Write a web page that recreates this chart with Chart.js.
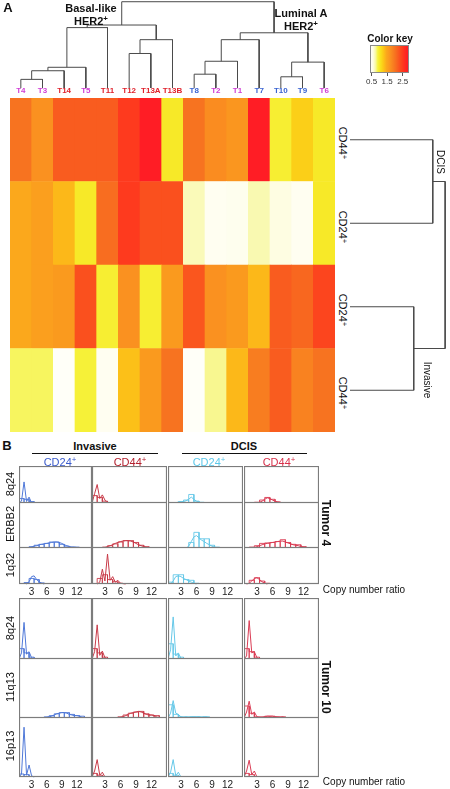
<!DOCTYPE html>
<html>
<head>
<meta charset="utf-8">
<script src="https://cdn.jsdelivr.net/npm/chart.js@4.4.1/dist/chart.umd.min.js"></script>
<style>
body{margin:0;background:#fff;width:450px;height:789px;position:relative;overflow:hidden;font-family:"Liberation Sans",Arial,sans-serif;color:#111}
canvas{position:absolute}
.t{position:absolute;white-space:nowrap;line-height:1;transform:translate(-50%,-50%)}
.cw{transform:translate(-50%,-50%) rotate(90deg)}
.ccw{transform:translate(-50%,-50%) rotate(-90deg)}
.b{font-weight:bold}
sup{font-size:72%;line-height:0;vertical-align:0.4em}
.rule{position:absolute;height:1px;background:#111}
</style>
</head>
<body>
<div id="root"></div>
<script>
// heatmap (panel A)
const colLabels = ['T4','T3','T14','T5','T11','T12','T13A','T13B','T8','T2','T1','T7','T10','T9','T6'];
const colGroup = ['m','m','r','m','r','r','r','r','b','m','m','b','b','b','m'];
const rowLabels = ['CD44', 'CD24', 'CD24', 'CD44'];
const dcisCD44 = [2.0, 1.7, 2.2, 2.2, 2.2, 2.5, 2.8, 1.0, 2.0, 1.75, 1.65, 2.8, 0.95, 1.2, 1.0];
const dcisCD24 = [1.45, 1.55, 1.35, 1.0, 2.05, 2.5, 2.3, 2.3, 0.7, 0.5, 0.52, 0.72, 0.6, 0.5, 1.0];
const invCD24 = [1.45, 1.55, 1.6, 2.3, 0.95, 1.7, 0.95, 1.6, 2.25, 1.7, 1.6, 1.35, 2.2, 2.1, 2.4];
const invCD44 = [0.85, 0.85, 0.45, 0.92, 0.5, 1.3, 1.6, 2.0, 0.45, 0.78, 1.35, 1.9, 2.2, 1.85, 2.0];
const keyTicks = [0.5, 1.5, 2.5];

// column clustering (hclust style merges, negative = leaf)
const topMergeA = [-1, -13, -9, 1, 4, 2, 3, -6, 8, 7, 10, 5, 12, 13];
const topMergeB = [-2, -14, -10, -3, -4, -15, -11, -7, -8, -12, 6, -5, 9, 11];
const topMergeH = [0.10, 0.13, 0.16, 0.20, 0.24, 0.30, 0.31, 0.40, 0.56, 0.56, 0.64, 0.70, 0.73, 1.0];
// row clustering
const rowMergeA = [-3, -1, 2];
const rowMergeB = [-4, -2, 1];
const rowMergeH = [0.67, 0.87, 1.0];

// histograms (panel B): columns = invasive CD24, invasive CD44, DCIS CD24, DCIS CD44
const copyTicks = [3, 6, 9, 12];
const binEdges = [0.5, 1.5, 2.5, 3.5, 4.5, 5.5, 6.5, 7.5, 8.5, 9.5, 10.5, 11.5, 12.5, 13.5, 14.5];
const fineX = [0.5, 1, 1.5, 2, 2.5, 3, 3.5, 4, 4.5, 5, 5.5, 6, 6.5, 7, 7.5, 8, 8.5, 9, 9.5, 10, 10.5, 11, 11.5, 12, 12.5, 13, 13.5, 14, 14.5];

const t4_8q24_coarse = [
  [0.12, 0.1, 0.04],
  [0.2, 0.15, 0.05],
  [0, 0, 0.04, 0.08, 0.23, 0.05, 0.02],
  [0, 0, 0.02, 0.08, 0.15, 0.1, 0.03]
];
const t4_8q24_fine = [
  [0, 0.05, 0.57, 0.04, 0.16, 0],
  [0, 0.25, 0.5, 0.12, 0.22, 0.08, 0],
  [0, 0, 0, 0.01, 0.02, 0.03, 0.04, 0.06, 0.1, 0.16, 0.1, 0.05, 0.02, 0],
  [0, 0, 0, 0, 0, 0, 0.02, 0.05, 0.1, 0.14, 0.12, 0.08, 0.05, 0.03, 0.01, 0]
];
const t4_erbb2_coarse = [
  [0, 0, 0.03, 0.06, 0.08, 0.1, 0.13, 0.13, 0.08, 0.04, 0.02, 0.02, 0.01, 0.01],
  [0, 0, 0.02, 0.05, 0.09, 0.13, 0.16, 0.16, 0.12, 0.06, 0.03, 0, 0, 0.01],
  [0, 0, 0, 0, 0.12, 0.34, 0.2, 0.2, 0.06, 0.02],
  [0, 0.02, 0.05, 0.1, 0.11, 0.12, 0.14, 0.18, 0.12, 0.08, 0.07, 0.03, 0.01]
];
const t4_erbb2_fine = [
  [0, 0, 0, 0, 0, 0.02, 0.04, 0.05, 0.07, 0.08, 0.09, 0.1, 0.11, 0.12, 0.13, 0.13, 0.12, 0.1, 0.07, 0.05, 0.03, 0.02, 0.02, 0.01, 0.01, 0.01, 0.01, 0.01, 0],
  [0, 0, 0, 0, 0, 0.01, 0.03, 0.05, 0.07, 0.1, 0.12, 0.14, 0.15, 0.16, 0.16, 0.15, 0.13, 0.1, 0.07, 0.05, 0.03, 0.01, 0, 0, 0, 0, 0, 0.01, 0],
  [0, 0, 0, 0, 0, 0, 0, 0, 0.04, 0.14, 0.24, 0.27, 0.22, 0.17, 0.14, 0.1, 0.07, 0.04, 0.02, 0],
  [0, 0, 0, 0, 0.01, 0.03, 0.05, 0.07, 0.09, 0.1, 0.11, 0.12, 0.13, 0.14, 0.15, 0.15, 0.13, 0.11, 0.09, 0.07, 0.06, 0.05, 0.03, 0.02, 0.01, 0]
];
const t4_1q32_coarse = [
  [0, 0.04, 0.15, 0.12, 0.03],
  [0, 0.15, 0.25, 0.12, 0.06, 0.02],
  [0.05, 0.25, 0.25, 0.12, 0.1, 0.02],
  [0, 0.1, 0.17, 0.08, 0.02]
];
const t4_1q32_fine = [
  [0, 0, 0, 0, 0.06, 0.2, 0.22, 0.12, 0.06, 0.02, 0],
  [0, 0, 0, 0.05, 0.4, 0.08, 0.81, 0.1, 0.2, 0.05, 0.1, 0.02, 0.01, 0],
  [0, 0, 0.08, 0.2, 0.22, 0.2, 0.15, 0.12, 0.08, 0.05, 0.02, 0],
  [0, 0, 0.02, 0.08, 0.15, 0.17, 0.12, 0.06, 0.02, 0]
];
const t10_8q24_coarse = [
  [0.17, 0.1, 0.03],
  [0.17, 0.1, 0.03],
  [0.25, 0.08, 0.03],
  [0.17, 0.12, 0.03]
];
const t10_8q24_fine = [
  [0, 0.1, 0.6, 0.08, 0.12, 0.02, 0],
  [0, 0.12, 0.56, 0.06, 0.13, 0.02, 0],
  [0, 0.15, 0.69, 0.05, 0.1, 0.01, 0],
  [0, 0.05, 0.63, 0.1, 0.12, 0.02, 0]
];
const t10_11q13_coarse = [
  [0, 0, 0, 0, 0, 0.02, 0.04, 0.07, 0.09, 0.09, 0.06, 0.04, 0.03],
  [0, 0, 0, 0, 0, 0.02, 0.05, 0.08, 0.1, 0.11, 0.07, 0.05, 0.04],
  [0.22, 0.06, 0.02, 0.02, 0.02, 0.02, 0.02, 0.02],
  [0.2, 0.08, 0.02, 0.02, 0.03, 0.03, 0.02, 0.02]
];
const t10_11q13_fine = [
  [0, 0, 0, 0, 0, 0, 0, 0, 0, 0, 0, 0.01, 0.02, 0.03, 0.05, 0.07, 0.08, 0.09, 0.09, 0.08, 0.06, 0.05, 0.04, 0.04, 0.03, 0.01, 0],
  [0, 0, 0, 0, 0, 0, 0, 0, 0, 0, 0, 0.01, 0.02, 0.04, 0.06, 0.08, 0.09, 0.1, 0.11, 0.1, 0.08, 0.06, 0.05, 0.05, 0.04, 0.02, 0],
  [0, 0.08, 0.29, 0.08, 0.06, 0.02, 0.01, 0.02, 0.01, 0.02, 0.02, 0.02, 0.02, 0.01, 0.02, 0.02, 0],
  [0, 0.1, 0.28, 0.06, 0.1, 0.02, 0.01, 0.01, 0.02, 0.03, 0.03, 0.03, 0.02, 0.02, 0.01, 0.02, 0]
];
const t10_16p13_coarse = [
  [0.05, 0.04],
  [0.06, 0.03],
  [0.06, 0.03],
  [0.06, 0.04]
];
const t10_16p13_fine = [
  [0, 0.05, 0.83, 0.03, 0.2, 0.02, 0],
  [0, 0.1, 0.29, 0.03, 0.08, 0],
  [0, 0.08, 0.29, 0.02, 0.08, 0],
  [0, 0.1, 0.28, 0.04, 0.1, 0]
];

const FONT = '"Liberation Sans", Arial, sans-serif';
const groupColor = {m: '#d03ed6', r: '#e0222c', b: '#3a64d2'};
const seriesColor = ['#4f78d8', '#c83a48', '#66c8e8', '#da3c54'];
const paletteVals = [0.4, 0.6, 0.75, 0.9, 1.05, 1.25, 1.45, 1.7, 2.0, 2.3, 2.55, 2.9];
const paletteRGB = [[255,255,255],[254,253,226],[248,248,165],[246,243,60],[248,228,30],[252,200,22],[251,168,28],[250,145,32],[247,115,32],[250,80,30],[255,52,30],[255,20,40]];

function heatColor(v){
  if (v <= paletteVals[0]) return 'rgb(' + paletteRGB[0].join(',') + ')';
  for (let i = 1; i < paletteVals.length; i++){
    if (v <= paletteVals[i]){
      const f = (v - paletteVals[i-1]) / (paletteVals[i] - paletteVals[i-1]);
      const c = paletteRGB[i-1].map((a, k) => Math.round(a + (paletteRGB[i][k] - a) * f));
      return 'rgb(' + c.join(',') + ')';
    }
  }
  return 'rgb(' + paletteRGB[paletteRGB.length-1].join(',') + ')';
}

const root = document.getElementById('root');

function addCanvas(left, top, w, h){
  const c = document.createElement('canvas');
  c.width = w; c.height = h;
  c.style.left = left + 'px'; c.style.top = top + 'px';
  c.style.width = w + 'px'; c.style.height = h + 'px';
  root.appendChild(c);
  return c;
}

function addText(html, x, y, size, cls, color){
  const d = document.createElement('div');
  d.className = 't ' + (cls || '');
  d.innerHTML = html;
  d.style.left = x + 'px'; d.style.top = y + 'px';
  d.style.fontSize = size + 'px';
  if (color) d.style.color = color;
  root.appendChild(d);
}

function addRule(x1, x2, y){
  const d = document.createElement('div');
  d.className = 'rule';
  d.style.left = x1 + 'px'; d.style.top = y + 'px'; d.style.width = (x2 - x1) + 'px';
  root.appendChild(d);
}

// dendrogram segments from merges
function dendroSegments(a, b, h){
  const nodes = [];
  const segs = [];
  const pos = i => i < 0 ? {p: -i - 1, h: 0} : nodes[i - 1];
  for (let k = 0; k < a.length; k++){
    const L = pos(a[k]), R = pos(b[k]);
    segs.push([[L.p, L.h], [L.p, h[k]], [R.p, h[k]], [R.p, R.h]]);
    nodes.push({p: (L.p + R.p) / 2, h: h[k]});
  }
  return segs;
}

const baseOpts = {
  responsive: false,
  animation: false,
  events: [],
  layout: {padding: 0},
  plugins: {legend: {display: false}, tooltip: {enabled: false}}
};

// heatmap
const heatRows = [invCD44, invCD24, dcisCD24, dcisCD44]; // bottom -> top
new Chart(addCanvas(10, 86, 325, 346), {
  type: 'bar',
  data: {
    labels: colLabels,
    datasets: heatRows.map(r => ({
      data: r.map(() => 1),
      backgroundColor: r.map(heatColor),
      borderWidth: 0,
      barPercentage: 1,
      categoryPercentage: 1
    }))
  },
  options: Object.assign({}, baseOpts, {
    scales: {
      x: {
        position: 'top', stacked: true,
        grid: {display: false, drawTicks: false}, border: {display: false},
        ticks: {
          color: c => groupColor[colGroup[c.index]],
          font: {size: 8, weight: 'bold', family: FONT},
          padding: 2, maxRotation: 0, autoSkip: false
        },
        afterFit: s => { s.height = 12; }
      },
      y: {display: false, stacked: true, min: 0, max: 4}
    }
  })
});

// top dendrogram
new Chart(addCanvas(10, 0, 325, 88), {
  type: 'scatter',
  data: {
    datasets: dendroSegments(topMergeA, topMergeB, topMergeH).map(s => ({
      data: s.map(p => ({x: p[0], y: p[1]})),
      showLine: true, borderColor: '#4a4a4a', borderWidth: 1, pointRadius: 0, clip: false
    }))
  },
  options: Object.assign({}, baseOpts, {
    scales: {
      x: {type: 'linear', display: false, min: -0.5, max: 14.5},
      y: {type: 'linear', display: false, min: 0, max: 1.02}
    }
  })
});

// row dendrogram
new Chart(addCanvas(350, 98, 98, 334), {
  type: 'scatter',
  data: {
    datasets: dendroSegments(rowMergeA, rowMergeB, rowMergeH).map(s => ({
      data: s.map(p => ({x: p[1], y: p[0]})),
      showLine: true, borderColor: '#4a4a4a', borderWidth: 1, pointRadius: 0, clip: false
    }))
  },
  options: Object.assign({}, baseOpts, {
    scales: {
      x: {type: 'linear', display: false, min: 0, max: 1.03},
      y: {type: 'linear', display: false, min: -0.5, max: 3.5, reverse: true}
    }
  })
});

// colour key
const keyGradient = {
  id: 'keyGradient',
  beforeDatasetsDraw(chart){
    const {ctx, chartArea: a, scales: {x}} = chart;
    const g = ctx.createLinearGradient(a.left, 0, a.right, 0);
    paletteVals.forEach((v, i) => {
      const off = Math.min(1, Math.max(0, (x.getPixelForValue(v) - a.left) / (a.right - a.left)));
      g.addColorStop(off, 'rgb(' + paletteRGB[i].join(',') + ')');
    });
    ctx.save();
    ctx.fillStyle = g;
    ctx.fillRect(a.left, a.top, a.right - a.left, a.bottom - a.top);
    ctx.strokeStyle = '#8a8a8a';
    ctx.lineWidth = 1;
    ctx.strokeRect(a.left + 0.5, a.top + 0.5, a.right - a.left - 1, a.bottom - a.top - 1);
    ctx.restore();
  }
};
new Chart(addCanvas(362, 45, 55, 45), {
  type: 'scatter',
  data: {datasets: []},
  options: Object.assign({}, baseOpts, {
    layout: {padding: {left: 8, right: 8}},
    scales: {
      x: {
        type: 'linear', min: 0.4, max: 2.9,
        grid: {display: true, drawOnChartArea: false, tickLength: 3, color: '#555'},
        border: {display: false},
        ticks: {font: {size: 8, family: FONT}, color: '#333', padding: 1, maxRotation: 0},
        afterBuildTicks: s => { s.ticks = keyTicks.map(v => ({value: v})); },
        afterFit: s => { s.height = 17; }
      },
      y: {display: false, min: 0, max: 1}
    }
  }),
  plugins: [keyGradient]
});

// histogram panels
const panelBox = {
  id: 'panelBox',
  afterDraw(chart){
    const {ctx, chartArea: a} = chart;
    ctx.save();
    ctx.strokeStyle = '#7c7c7c';
    ctx.lineWidth = 1.2;
    ctx.strokeRect(a.left + 0.5, a.top + 0.5, a.right - a.left - 1, a.bottom - a.top - 1);
    ctx.restore();
  }
};

function coarsePoints(vals){
  const pts = [];
  vals.forEach((v, i) => {
    if (v <= 0) return;
    pts.push({x: binEdges[i], y: 0}, {x: binEdges[i], y: v}, {x: binEdges[i+1], y: v}, {x: binEdges[i+1], y: 0});
  });
  return pts;
}
function finePoints(vals){
  let first = vals.findIndex(v => v > 0);
  first = Math.max(0, first - 1);
  const pts = [];
  for (let i = first; i < vals.length; i++) pts.push({x: fineX[i], y: vals[i]});
  return pts;
}

function panel(left, top, w, h, color, coarse, fine, ticks){
  const cv = addCanvas(left, top, w, h + (ticks ? 15 : 0));
  const xScale = {
    type: 'linear', min: 0.5, max: 15, display: !!ticks,
    grid: {display: false, drawTicks: false}, border: {display: false},
    ticks: {font: {size: 10, family: FONT}, color: '#222', padding: 2, maxRotation: 0},
    afterBuildTicks: s => { s.ticks = copyTicks.map(v => ({value: v})); }
  };
  if (ticks) xScale.afterFit = s => { s.height = 15; };
  new Chart(cv, {
    type: 'scatter',
    data: {
      datasets: [
        {data: coarsePoints(coarse), showLine: true, borderColor: color, borderWidth: 0.9, pointRadius: 0, clip: false},
        {data: finePoints(fine), showLine: true, borderColor: color, borderWidth: 1, pointRadius: 0, clip: false}
      ]
    },
    options: Object.assign({}, baseOpts, {
      scales: {
        x: xScale,
        y: {display: false, min: 0, max: 1}
      }
    }),
    plugins: [panelBox]
  });
}

const colLeft = [19, 92, 168, 244];
const colRight = [91, 166, 242, 318];
function block(rowEdges, coarseRows, fineRows){
  for (let r = 0; r < 3; r++){
    for (let c = 0; c < 4; c++){
      panel(colLeft[c], rowEdges[r], colRight[c] - colLeft[c] + 1, rowEdges[r+1] - rowEdges[r] + 1,
        seriesColor[c], coarseRows[r][c], fineRows[r][c], r === 2);
    }
  }
}
block([466, 502, 547, 583], [t4_8q24_coarse, t4_erbb2_coarse, t4_1q32_coarse], [t4_8q24_fine, t4_erbb2_fine, t4_1q32_fine]);
block([598, 658, 717, 776], [t10_8q24_coarse, t10_11q13_coarse, t10_16p13_coarse], [t10_8q24_fine, t10_11q13_fine, t10_16p13_fine]);

// text
addText('A', 8, 7, 13, 'b');
addText('Basal-like', 91, 8, 11, 'b');
addText('HER2<sup>+</sup>', 91, 21, 11, 'b');
addText('Luminal A', 301, 13, 11, 'b');
addText('HER2<sup>+</sup>', 301, 26, 11, 'b');
addText('Color key', 390, 39, 10, 'b');
[140, 224, 307, 390].forEach((y, i) => addText(rowLabels[i] + '<sup>+</sup>', 342, y + 3, 11, 'cw'));
addText('DCIS', 440, 162, 10, 'cw');
addText('Invasive', 427, 380, 10, 'cw');

addText('B', 7, 445, 13, 'b');
addText('Invasive', 95, 446, 11, 'b');
addRule(32, 158, 453);
addText('DCIS', 244, 446, 11, 'b');
addRule(182, 307, 453);
addText('CD24<sup>+</sup>', 60, 462, 11, '', '#3a5bcc');
addText('CD44<sup>+</sup>', 130, 462, 11, '', '#b3202e');
addText('CD24<sup>+</sup>', 209, 462, 11, '', '#5cc8ea');
addText('CD44<sup>+</sup>', 279, 462, 11, '', '#d8304a');
[['8q24', 484], ['ERBB2', 524], ['1q32', 565], ['8q24', 628], ['11q13', 687], ['16p13', 746]]
  .forEach(p => addText(p[0], 10, p[1], 11, 'ccw'));
addText('Tumor 4', 326, 523, 12, 'cw b');
addText('Tumor 10', 326, 687, 12, 'cw b');
addText('Copy number ratio', 364, 590, 10);
addText('Copy number ratio', 364, 782, 10);
</script>
</body>
</html>
